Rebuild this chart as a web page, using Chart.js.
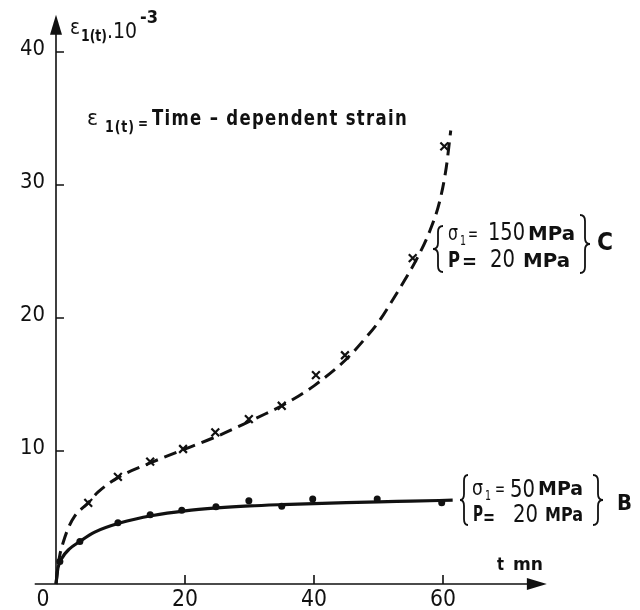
<!DOCTYPE html>
<html>
<head>
<meta charset="utf-8">
<script src="https://cdn.jsdelivr.net/npm/chart.js@4.4.0/dist/chart.umd.min.js"></script>
<style>
  html, body { margin: 0; padding: 0; background: #fff; }
  #wrap { width: 640px; height: 610px; }
</style>
</head>
<body>
<div id="wrap"><canvas id="grafico" width="640" height="610"></canvas></div>
<script>
// values: t in mn, strain in 10^-3
const xTicks = [0, 20, 40, 60];
const yTicks = [10, 20, 30, 40];

// curve C (sigma1 = 150 MPa), measured points
const tPuntosC = [5, 9.6, 14.6, 19.7, 24.7, 29.9, 35, 40.3, 44.8, 55.3, 60.2];
const epsPuntosC = [6.1, 8.05, 9.2, 10.15, 11.4, 12.4, 13.4, 15.7, 17.2, 24.5, 32.9];
// curve C, dashed fit
const tCurvaC = [0, 0.3, 0.6, 1.1, 1.9, 2.9, 5, 6.5, 9.6, 14.6, 19.7, 24.7, 29.9, 32.5, 35, 37.5, 40, 45, 48, 50, 52, 54, 56, 58, 59.5, 60.5, 61.2];
const epsCurvaC = [0, 1.3, 2.2, 3.1, 4.2, 5.1, 6.1, 6.9, 8.0, 9.1, 10.1, 11.05, 12.2, 12.8, 13.4, 14.1, 14.9, 16.9, 18.5, 19.7, 21.2, 22.8, 24.5, 26.6, 28.8, 31.3, 34.1];

// curve B (sigma1 = 50 MPa), measured points
const tPuntosB = [0.6, 3.7, 9.6, 14.6, 19.5, 24.8, 29.9, 35, 39.8, 49.8, 59.8];
const epsPuntosB = [1.7, 3.2, 4.6, 5.2, 5.55, 5.8, 6.25, 5.85, 6.4, 6.4, 6.1];
// curve B, solid fit
const tCurvaB = [0, 0.3, 1, 2, 3.7, 6, 10, 15, 20, 25, 30, 35, 40, 45, 50, 55, 61.5];
const epsCurvaB = [0, 1.2, 2.0, 2.6, 3.2, 3.9, 4.6, 5.15, 5.5, 5.72, 5.87, 5.97, 6.05, 6.12, 6.18, 6.23, 6.3];

const pares = (xs, ys) => xs.map((v, i) => ({x: v, y: ys[i]}));

const FUENTE = "'DejaVu Sans Condensed', 'DejaVu Sans', sans-serif";
const TINTA = '#111';

// draw a piece of text squeezed/stretched to a given width
const texto = (ctx, s, x, y, font, w, espacio) => {
  ctx.font = font + ' ' + FUENTE;
  ctx.letterSpacing = espacio || '0px';
  const m = ctx.measureText(s).width;
  ctx.save();
  ctx.translate(x, y);
  if (w) ctx.scale(w / m, 1);
  ctx.textAlign = 'left';
  ctx.textBaseline = 'alphabetic';
  ctx.fillText(s, 0, 0);
  ctx.restore();
  ctx.letterSpacing = '0px';
};

// curly brace, tip at xPunta, ends at xFin
const llave = (ctx, xPunta, xFin, yTop, yBot) => {
  const xm = (xPunta + xFin) / 2, ym = (yTop + yBot) / 2, r = 6;
  ctx.beginPath();
  ctx.moveTo(xFin, yTop);
  ctx.quadraticCurveTo(xm, yTop, xm, yTop + r);
  ctx.lineTo(xm, ym - r);
  ctx.quadraticCurveTo(xm, ym, xPunta, ym);
  ctx.quadraticCurveTo(xm, ym, xm, ym + r);
  ctx.lineTo(xm, yBot - r);
  ctx.quadraticCurveTo(xm, yBot, xFin, yBot);
  ctx.stroke();
};

const ejes = {
  id: 'ejes',
  beforeDatasetsDraw(chart) {
    const {ctx, scales: {x, y}} = chart;
    const x0 = x.getPixelForValue(0), y0 = y.getPixelForValue(0);
    ctx.save();
    ctx.strokeStyle = TINTA;
    ctx.fillStyle = TINTA;
    ctx.lineWidth = 1.6;
    ctx.beginPath();
    ctx.moveTo(x.getPixelForValue(-3.3), y0);
    ctx.lineTo(x.getPixelForValue(73.5), y0);
    ctx.moveTo(x0, y0);
    ctx.lineTo(x0, y.getPixelForValue(41.6));
    ctx.stroke();
    // arrow heads
    ctx.beginPath();
    ctx.moveTo(x.getPixelForValue(76.1), y0);
    ctx.lineTo(x.getPixelForValue(73.0), y0 - 6);
    ctx.lineTo(x.getPixelForValue(73.0), y0 + 6);
    ctx.closePath();
    ctx.fill();
    ctx.beginPath();
    ctx.moveTo(x0, y.getPixelForValue(42.8));
    ctx.lineTo(x0 - 6, y.getPixelForValue(41.3));
    ctx.lineTo(x0 + 6, y.getPixelForValue(41.3));
    ctx.closePath();
    ctx.fill();
    // ticks
    ctx.beginPath();
    xTicks.forEach(v => {
      if (v === 0) return;
      const px = x.getPixelForValue(v);
      ctx.moveTo(px, y0);
      ctx.lineTo(px, y0 - 9);
    });
    yTicks.forEach(v => {
      const py = y.getPixelForValue(v);
      ctx.moveTo(x0, py);
      ctx.lineTo(x0 + 8, py);
    });
    ctx.stroke();
    ctx.restore();
  },
  afterDraw(chart) {
    const {ctx, scales: {x, y}} = chart;
    const x0 = x.getPixelForValue(0);
    ctx.save();
    ctx.fillStyle = TINTA;
    ctx.strokeStyle = TINTA;

    // tick labels
    yTicks.forEach(v => {
      const py = y.getPixelForValue(v);
      texto(ctx, String(v), x0 - 11 - 25, py + 3, '22px', 25);
    });
    xTicks.forEach(v => {
      const px = v === 0 ? x0 - 13 : x.getPixelForValue(v);
      const s = String(v);
      const w = s.length === 1 ? 13 : 26;
      texto(ctx, s, px - w / 2, 606, '23px', w);
    });

    // y axis title
    texto(ctx, 'ε', 70, 34, '22px', 10);
    texto(ctx, '1(t)', 81, 41, 'bold 15px', 26);
    texto(ctx, '.10', 107, 38, '22px', 30);
    texto(ctx, '-3', 140, 23, 'bold 17px', 18);

    // x axis title
    texto(ctx, 't', 497, 570, 'bold 18px', 7);
    texto(ctx, 'mn', 513, 570, 'bold 18px', 30);

    // definition
    texto(ctx, 'ε', 87, 125, '22px', 11);
    texto(ctx, '1(t)', 105, 132, 'bold 15px', 30, '1px');
    texto(ctx, '=', 138, 128, 'bold 16px', 10);
    texto(ctx, 'Time – dependent strain', 152, 125, 'bold 21px', 256, '1.5px');

    // curve C label
    ctx.lineWidth = 1.8;
    llave(ctx, 433, 443, 226, 272);
    llave(ctx, 590, 580, 215, 273);
    texto(ctx, 'σ', 448, 240, '22px', 10);
    texto(ctx, '1', 460, 245, '14px', 6);
    texto(ctx, '=', 468, 240, '20px', 10);
    texto(ctx, '150', 488, 240, '24px', 37);
    texto(ctx, 'MPa', 528, 240, 'bold 20px', 47);
    texto(ctx, 'P', 448, 267, 'bold 22px', 12);
    texto(ctx, '=', 462, 268, 'bold 20px', 15);
    texto(ctx, '20', 490, 267, '24px', 25);
    texto(ctx, 'MPa', 523, 267, 'bold 20px', 47);
    texto(ctx, 'C', 597, 250, 'bold 24px', 16);

    // curve B label
    llave(ctx, 460, 468, 475, 525);
    llave(ctx, 603, 593, 475, 525);
    texto(ctx, 'σ', 472, 495, '22px', 11);
    texto(ctx, '1', 485, 500, '14px', 6);
    texto(ctx, '=', 495, 495, '20px', 10);
    texto(ctx, '50', 510, 497, '24px', 25);
    texto(ctx, 'MPa', 538, 495, 'bold 20px', 45);
    texto(ctx, 'P', 473, 521, 'bold 22px', 10);
    texto(ctx, '=', 483, 524, 'bold 20px', 12);
    texto(ctx, '20', 513, 522, '24px', 25);
    texto(ctx, 'MPa', 545, 521, 'bold 20px', 38);
    texto(ctx, 'B', 617, 510, 'bold 22px', 15);

    ctx.restore();
  }
};

const config = {
  type: 'scatter',
  data: {
    datasets: [
      {
        label: 'C puntos',
        data: pares(tPuntosC, epsPuntosC),
        showLine: false,
        pointStyle: 'crossRot',
        pointRadius: 5.5,
        pointBorderWidth: 2.2,
        pointBorderColor: TINTA,
      },
      {
        label: 'B puntos',
        data: pares(tPuntosB, epsPuntosB),
        showLine: false,
        pointStyle: 'circle',
        pointRadius: 3.5,
        pointBorderWidth: 0,
        pointBackgroundColor: TINTA,
      },
      {
        label: 'C',
        data: pares(tCurvaC, epsCurvaC),
        showLine: true,
        borderColor: TINTA,
        borderWidth: 3,
        borderDash: [13, 7],
        pointRadius: 0,
        cubicInterpolationMode: 'monotone',
      },
      {
        label: 'B',
        data: pares(tCurvaB, epsCurvaB),
        showLine: true,
        borderColor: TINTA,
        borderWidth: 3.2,
        pointRadius: 0,
        cubicInterpolationMode: 'monotone',
      },
    ],
  },
  options: {
    responsive: false,
    animation: false,
    devicePixelRatio: 1,
    layout: {padding: 0, autoPadding: false},
    plugins: {
      legend: {display: false},
      tooltip: {enabled: false},
    },
    scales: {
      x: {type: 'linear', min: -8.682, max: 90.543, display: false},
      y: {type: 'linear', min: -1.955, max: 43.91, display: false},
    },
  },
  plugins: [ejes],
};

const myChart = new Chart(document.getElementById('grafico'), config);
</script>
</body>
</html>
